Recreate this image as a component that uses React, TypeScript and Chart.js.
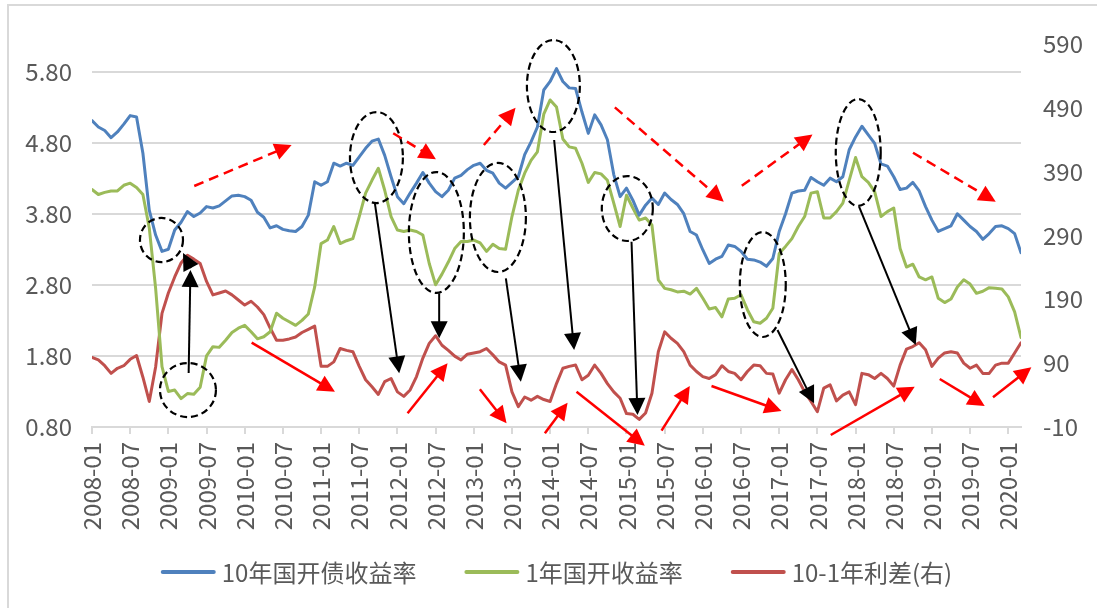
import React, { useEffect, useRef } from 'react';
import { Chart, registerables } from 'chart.js';

Chart.register(...registerables);

// ---- categories: monthly, 2008-01 .. 2020-03 ----
const START_YEAR = 2008;
const END_YEAR = 2020;
const END_MONTH = 3;
const months: string[] = [];
for (let y = START_YEAR; y <= END_YEAR; y++) {
  for (let m = 1; m <= 12; m++) {
    if (y === END_YEAR && m > END_MONTH) break;
    months.push(`${y}-${String(m).padStart(2, '0')}`);
  }
}

// ---- series ----
const yield10y = [
  5.11, 5.02, 4.97, 4.87, 4.95, 5.06, 5.18, 5.16, 4.65, 3.85, 3.50, 3.27,
  3.30, 3.57, 3.68, 3.83, 3.76, 3.81, 3.90, 3.88, 3.91, 3.98, 4.05, 4.06,
  4.04, 3.99, 3.82, 3.75, 3.60, 3.63, 3.58, 3.56, 3.55, 3.62, 3.78, 4.25,
  4.20, 4.25, 4.51, 4.47, 4.51, 4.48, 4.60, 4.72, 4.82, 4.85, 4.62, 4.32,
  4.04, 3.94, 4.09, 4.23, 4.38, 4.23, 4.11, 4.04, 4.13, 4.30, 4.34, 4.42,
  4.48, 4.51, 4.41, 4.37, 4.23, 4.16, 4.24, 4.32, 4.63, 4.81, 5.02, 5.54,
  5.66, 5.84, 5.66, 5.57, 5.56, 5.23, 4.93, 5.19, 5.05, 4.84, 4.35, 4.04,
  4.16, 3.99, 3.78, 3.92, 4.02, 3.93, 4.09, 4.00, 3.93, 3.80, 3.55, 3.50,
  3.29, 3.10, 3.16, 3.20, 3.36, 3.34, 3.27, 3.16, 3.15, 3.12, 3.06, 3.17,
  3.55, 3.80, 4.09, 4.12, 4.13, 4.31, 4.25, 4.20, 4.30, 4.25, 4.32, 4.70,
  4.88, 5.03, 4.91, 4.79, 4.50, 4.47, 4.32, 4.14, 4.16, 4.24, 4.12, 3.90,
  3.71, 3.55, 3.59, 3.63, 3.80, 3.71, 3.62, 3.55, 3.44, 3.52, 3.62, 3.63,
  3.59, 3.52, 3.25,
];

const yield1y = [
  4.14, 4.07, 4.10, 4.12, 4.12, 4.20, 4.23, 4.17, 4.07, 3.60, 2.75, 1.65,
  1.30, 1.32, 1.20, 1.27, 1.26, 1.36, 1.80, 1.93, 1.92, 2.02, 2.13, 2.19,
  2.23, 2.14, 2.04, 2.07, 2.14, 2.40, 2.33, 2.28, 2.23, 2.30, 2.39, 2.77,
  3.38, 3.43, 3.62, 3.38, 3.42, 3.45, 3.76, 4.09, 4.27, 4.44, 4.13, 3.76,
  3.57, 3.55, 3.57, 3.55, 3.50, 3.10, 2.80, 2.95, 3.12, 3.31, 3.41, 3.41,
  3.43, 3.39, 3.27, 3.37, 3.31, 3.30, 3.76, 4.13, 4.37, 4.55, 4.67, 5.20,
  5.40, 5.30, 4.85, 4.74, 4.72, 4.51, 4.24, 4.38, 4.36, 4.27, 3.95, 3.62,
  4.06, 3.88, 3.71, 3.74, 3.64, 2.87, 2.75, 2.73, 2.70, 2.71, 2.67, 2.75,
  2.61, 2.46, 2.48, 2.35, 2.60, 2.61, 2.66, 2.45, 2.28, 2.26, 2.33, 2.47,
  3.24, 3.34, 3.45, 3.62, 3.76, 4.09, 4.11, 3.74, 3.74, 3.83, 3.95, 4.27,
  4.59, 4.32, 4.24, 4.11, 3.76, 3.83, 3.88, 3.31, 3.05, 3.09, 2.91, 2.87,
  2.91, 2.61, 2.55, 2.60, 2.77, 2.87, 2.81, 2.68, 2.71, 2.76, 2.75, 2.74,
  2.63, 2.42, 2.06,
];

const spreadBp = [
  99, 95, 86, 74, 82, 86, 96, 102, 68, 30, 84, 168,
  200, 225, 247, 259, 253, 246, 218, 197, 200, 203, 197, 189,
  181, 187, 178, 166, 145, 126, 126, 128, 131, 138, 143, 148,
  85, 85, 92, 113, 110, 108, 85, 64, 53, 41, 61, 66,
  45, 38, 48, 69, 98, 121, 133, 118, 110, 101, 95, 104,
  106, 108, 113, 103, 92, 87, 45, 22, 37, 32, 38, 33,
  30, 58, 82, 85, 87, 64, 71, 87, 74, 58, 45, 35,
  11, 10, 2, 12, 43, 108, 139, 129, 121, 108, 87, 77,
  69, 66, 72, 86, 77, 74, 64, 77, 87, 86, 74, 73,
  43, 64, 80, 64, 45, 30, 14, 51, 56, 31, 40, 45,
  25, 74, 72, 66, 74, 66, 54, 87, 112, 116, 122, 111,
  85, 98, 106, 108, 106, 90, 82, 87, 74, 74, 87, 90,
  90, 106, 122,
];

const seriesNames = ['10年国开债收益率', '1年国开收益率', '10-1年利差(右)'];
const seriesColors = ['#4F81BD', '#9BBB59', '#C0504D'];

// ---- axes ----
const xTickIndexes: number[] = [];
for (let i = 0; i < months.length; i += 6) xTickIndexes.push(i);
const leftTicks = [0.8, 1.8, 2.8, 3.8, 4.8, 5.8];
const leftMin = 0.8;
const leftMax = 6.187;
const rightTicks = [-10, 90, 190, 290, 390, 490, 590];

// ---- annotations, in data units (month index, left-axis value) ----
// dashed ellipses: [centre month, centre value, radius months, radius value]
const ellipses: number[][] = [
  [10.92, 3.43, 3.38, 0.31],
  [15.08, 1.32, 4.4, 0.38],
  [44.7, 4.59, 4.16, 0.64],
  [54.12, 3.536, 4.32, 0.85],
  [63.79, 3.747, 4.4, 0.767],
  [72.51, 5.596, 4.16, 0.647],
  [84.13, 3.873, 4.01, 0.457],
  [105.42, 2.804, 3.61, 0.738],
  [120.42, 4.661, 3.53, 0.752],
];
// arrows: [from month, from value, to month, to value]
const blackArrows: number[][] = [
  [15.19, 1.56, 15.47, 3.008],
  [15.55, 3.036, 14.3, 3.247],
  [44.46, 3.946, 48.28, 1.555],
  [54.56, 2.68, 54.56, 2.048],
  [65.04, 2.891, 67.4, 1.437],
  [72.63, 4.837, 75.77, 1.883],
  [84.79, 3.406, 85.73, 0.969],
  [107.73, 2.164, 113.48, 1.133],
  [120.55, 3.898, 129.46, 1.953],
];
const redArrows: number[][] = [
  [25.09, 1.986, 38.18, 1.296],
  [49.6, 0.993, 55.88, 1.696],
  [60.96, 1.33, 65.15, 0.852],
  [71.17, 0.711, 74.74, 1.142],
  [76.15, 1.296, 86.88, 0.537],
  [89.51, 0.748, 93.95, 1.377],
  [97.36, 1.377, 108.36, 1.025],
  [116.1, 0.687, 129.3, 1.367],
  [133.23, 1.475, 140.3, 1.095],
  [141.6, 1.218, 147.63, 1.64],
];
const redDashedArrows: number[][] = [
  [16.07, 4.19, 31.37, 4.766],
  [47.34, 4.931, 54.05, 4.565],
  [61.59, 4.766, 66.57, 5.291],
  [82.17, 5.296, 99.29, 3.969],
  [102.12, 4.193, 113.23, 4.914],
  [129.03, 4.658, 142.03, 3.969],
];

const FONT = "'Noto Sans CJK SC', 'Noto Sans', sans-serif";
const TEXT_COLOR = '#595959';
const GRID_COLOR = '#d9d9d9';

function drawArrow(ctx: CanvasRenderingContext2D, x1: number, y1: number, x2: number, y2: number, color: string, width: number, dash: number[]) {
  const dx = x2 - x1;
  const dy = y2 - y1;
  const len = Math.hypot(dx, dy);
  const ux = dx / len;
  const uy = dy / len;
  const headLen = 17;
  const headHalf = 8.5;
  const bx = x2 - ux * headLen;
  const by = y2 - uy * headLen;
  ctx.save();
  ctx.strokeStyle = color;
  ctx.fillStyle = color;
  ctx.lineWidth = width;
  ctx.setLineDash(dash);
  ctx.beginPath();
  ctx.moveTo(x1, y1);
  ctx.lineTo(bx + ux * 2, by + uy * 2);
  ctx.stroke();
  ctx.setLineDash([]);
  ctx.beginPath();
  ctx.moveTo(x2, y2);
  ctx.lineTo(bx - uy * headHalf, by + ux * headHalf);
  ctx.lineTo(bx + uy * headHalf, by - ux * headHalf);
  ctx.closePath();
  ctx.fill();
  ctx.restore();
}

const framePlugin = {
  id: 'frame',
  beforeDraw(chart: any) {
    const ctx = chart.ctx as CanvasRenderingContext2D;
    ctx.save();
    ctx.fillStyle = '#ffffff';
    ctx.fillRect(0, 0, chart.width, chart.height);
    ctx.strokeStyle = GRID_COLOR;
    ctx.lineWidth = 2;
    ctx.strokeRect(8, 5, chart.width + 20, chart.height + 20);
    ctx.restore();
  },
};

const annotationPlugin = {
  id: 'annotations',
  afterDraw(chart: any) {
    const ctx = chart.ctx as CanvasRenderingContext2D;
    const xs = chart.scales.x;
    const ys = chart.scales.y;
    const px = (m: number) => xs.getPixelForValue(m);
    const py = (v: number) => ys.getPixelForValue(v);

    ctx.save();
    ctx.strokeStyle = '#000000';
    ctx.lineWidth = 2.2;
    ctx.setLineDash([7, 4]);
    for (const [cx, cy, rx, ry] of ellipses) {
      const cxp = px(cx);
      const cyp = py(cy);
      const rxp = Math.abs(px(cx + rx) - cxp);
      const ryp = Math.abs(py(cy + ry) - cyp);
      ctx.beginPath();
      ctx.ellipse(cxp, cyp, rxp, ryp, 0, 0, Math.PI * 2);
      ctx.stroke();
    }
    ctx.restore();

    for (const [a, b, c, d] of blackArrows) drawArrow(ctx, px(a), py(b), px(c), py(d), '#000000', 2, []);
    for (const [a, b, c, d] of redArrows) drawArrow(ctx, px(a), py(b), px(c), py(d), '#FF0000', 2.5, []);
    for (const [a, b, c, d] of redDashedArrows) drawArrow(ctx, px(a), py(b), px(c), py(d), '#FF0000', 2.5, [10, 6]);

    // legend
    const area = chart.chartArea;
    ctx.save();
    ctx.font = `24px ${FONT}`;
    ctx.textBaseline = 'middle';
    const lineLen = 55;
    const gapText = 6;
    const gapItem = 48;
    const widths = seriesNames.map((n) => ctx.measureText(n).width);
    const total = widths.reduce((s, w) => s + lineLen + gapText + w, 0) + gapItem * (seriesNames.length - 1);
    let x = (area.left + area.right) / 2 - total / 2;
    const y = 572;
    seriesNames.forEach((name, i) => {
      ctx.strokeStyle = seriesColors[i];
      ctx.lineWidth = 4;
      ctx.lineCap = 'round';
      ctx.beginPath();
      ctx.moveTo(x + 2, y);
      ctx.lineTo(x + lineLen - 2, y);
      ctx.stroke();
      ctx.fillStyle = TEXT_COLOR;
      ctx.fillText(name, x + lineLen + gapText, y + 1);
      x += lineLen + gapText + widths[i] + gapItem;
    });
    ctx.restore();
  },
};

export default function App() {
  const canvasRef = useRef<HTMLCanvasElement | null>(null);

  useEffect(() => {
    if (!canvasRef.current) return;
    const toPoints = (arr: number[]) => arr.map((v, i) => ({ x: i, y: v }));
    const chart = new Chart(canvasRef.current, {
      type: 'line',
      data: {
        datasets: [
          { label: seriesNames[0], data: toPoints(yield10y), borderColor: seriesColors[0], backgroundColor: seriesColors[0], yAxisID: 'y' },
          { label: seriesNames[1], data: toPoints(yield1y), borderColor: seriesColors[1], backgroundColor: seriesColors[1], yAxisID: 'y' },
          { label: seriesNames[2], data: toPoints(spreadBp), borderColor: seriesColors[2], backgroundColor: seriesColors[2], yAxisID: 'y1' },
        ],
      },
      options: {
        responsive: false,
        animation: false,
        events: [],
        layout: { padding: { top: 44, left: 0, right: 0, bottom: 0 } },
        elements: {
          line: { borderWidth: 3, tension: 0, borderJoinStyle: 'round', borderCapStyle: 'round' },
          point: { radius: 0 },
        },
        plugins: { legend: { display: false }, tooltip: { enabled: false } },
        scales: {
          x: {
            type: 'linear',
            min: 0,
            max: months.length - 1,
            afterBuildTicks: (s: any) => { s.ticks = xTickIndexes.map((v) => ({ value: v })); },
            afterFit: (s: any) => { s.height = 181; },
            ticks: {
              autoSkip: false,
              minRotation: 90,
              maxRotation: 90,
              padding: 8,
              color: TEXT_COLOR,
              font: { family: FONT, size: 24 },
              callback: (v: any) => months[Number(v)] ?? '',
            },
            grid: { drawOnChartArea: false, drawTicks: true, tickLength: 7, color: GRID_COLOR, lineWidth: 2 },
            border: { display: true, color: GRID_COLOR, width: 2 },
          },
          y: {
            position: 'left',
            min: leftMin,
            max: leftMax,
            afterBuildTicks: (s: any) => { s.ticks = leftTicks.map((v) => ({ value: v })); },
            afterFit: (s: any) => { s.width = 92; },
            ticks: {
              padding: 20,
              color: TEXT_COLOR,
              font: { family: FONT, size: 24 },
              callback: (v: any) => Number(v).toFixed(2),
            },
            grid: { color: GRID_COLOR, lineWidth: 2, drawTicks: false },
            border: { display: false },
          },
          y1: {
            position: 'right',
            min: -10,
            max: 590,
            afterBuildTicks: (s: any) => { s.ticks = rightTicks.map((v) => ({ value: v })); },
            afterFit: (s: any) => { s.width = 76; },
            ticks: {
              padding: 22,
              color: TEXT_COLOR,
              font: { family: FONT, size: 24 },
              callback: (v: any) => String(v),
            },
            grid: { display: false, drawTicks: false },
            border: { display: false },
          },
        },
      },
      plugins: [framePlugin, annotationPlugin],
    } as any);
    return () => chart.destroy();
  }, []);

  return (
    <div style={{ position: 'fixed', left: 0, top: 0, width: 1097, height: 608, background: '#fff' }}>
      <canvas ref={canvasRef} width={1097} height={608} style={{ display: 'block', width: 1097, height: 608 }} />
    </div>
  );
}
